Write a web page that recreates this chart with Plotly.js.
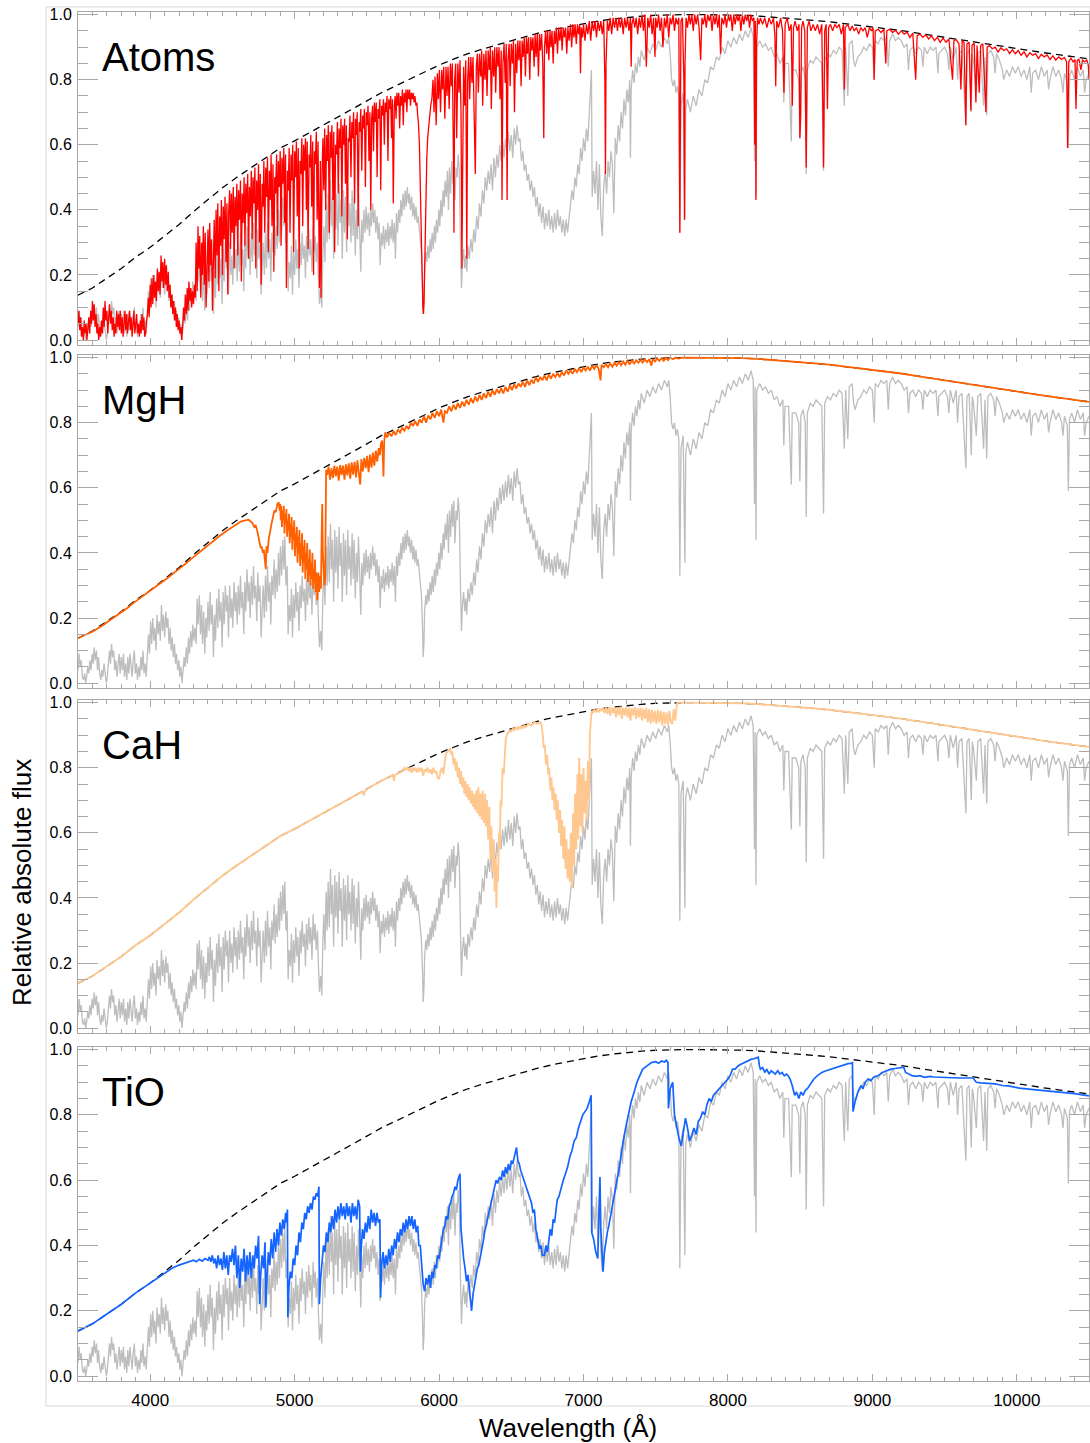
<!DOCTYPE html>
<html>
<head>
<meta charset="utf-8">
<script src="https://cdn.plot.ly/plotly-3.0.1.min.js"></script>
<style>html,body{margin:0;padding:0;background:#fff;}#chart{width:1090px;height:1443px;}</style>
</head>
<body>
<div id="chart"></div>
<script>
// ---------- DATA (wavelength in Angstrom, relative absolute flux) ----------
const panelLabels = ['Atoms', 'MgH', 'CaH', 'TiO'];
const xTickValues = [4000, 5000, 6000, 7000, 8000, 9000, 10000];
const yTickValues = [0.0, 0.2, 0.4, 0.6, 0.8, 1.0];

// smooth continuum (dashed)
const continuum = [
[3500,.138],[3600,.160],[3700,.190],[3800,.220],[3900,.255],[4000,.285],[4100,.320],[4200,.355],[4300,.395],[4400,.432],
[4500,.468],[4600,.500],[4700,.530],[4800,.560],[4900,.590],[5000,.612],[5100,.636],[5200,.660],[5300,.685],[5400,.710],
[5500,.735],[5600,.760],[5700,.781],[5800,.803],[5900,.825],[6000,.845],[6100,.863],[6200,.880],[6300,.894],[6400,.907],
[6500,.920],[6600,.933],[6700,.945],[6800,.955],[6900,.964],[7000,.972],[7100,.980],[7200,.986],[7300,.991],[7400,.995],
[7500,.998],[7600,1.0],[7700,1.0],[7800,1.0],[7900,1.0],[8000,.999],[8100,.998],[8200,.996],[8300,.993],[8400,.990],
[8500,.986],[8600,.982],[8700,.978],[8800,.973],[8900,.968],[9000,.963],[9100,.957],[9200,.951],[9300,.944],[9400,.937],
[9500,.930],[9600,.923],[9700,.915],[9800,.908],[9900,.901],[10000,.894],[10100,.888],[10200,.882],[10300,.876],[10400,.870],[10500,.864]
];

// observed spectrum (grey)
const observed = [
[3500,.04],[3508,.09],[3515,.05],[3522,.07],[3530,.02],[3538,.01],[3546,.03],[3553,0],[3560,.02],[3568,.05],[3575,.03],[3582,.07],[3590,.04],[3598,.09],[3605,.06],[3612,.11],[3620,.07],[3628,.10],[3635,.04],[3642,.08],
[3650,.03],[3658,.01],[3665,.04],[3672,.02],[3680,.06],[3688,.03],[3696,0],[3703,.02],[3710,.05],[3718,.10],[3725,.06],[3732,.12],[3740,.08],[3747,.10],[3755,.04],[3762,.07],[3770,.02],[3778,.05],[3785,.09],[3792,.03],
[3800,.08],[3808,.04],[3815,.09],[3822,.02],[3830,.06],[3838,.01],[3845,.08],[3852,.03],[3860,.09],[3868,.05],[3875,.02],[3882,.07],[3890,.10],[3897,.03],[3905,.06],[3912,.01],[3920,.05],[3928,.02],[3935,.08],[3942,.04],
[3950,.10],[3957,.03],[3965,.06],[3972,.02],[3980,.08],[3988,.15],[3995,.09],[4003,.19],[4010,.12],[4018,.20],[4025,.13],[4032,.17],[4040,.10],[4047,.21],[4055,.15],[4062,.19],[4070,.13],[4078,.24],[4085,.16],[4092,.21],
[4100,.14],[4108,.22],[4115,.17],[4122,.20],[4130,.12],[4138,.17],[4145,.10],[4152,.14],[4160,.08],[4168,.12],[4175,.06],[4182,.09],[4190,.04],[4198,.07],[4205,.02],[4212,.05],[4220,0],[4228,.04],[4235,.08],[4242,.05],
[4250,.11],[4258,.06],[4265,.14],[4272,.09],[4280,.16],[4288,.11],[4295,.18],[4302,.13],[4310,.17],[4318,.12],[4325,.26],[4332,.18],[4340,.27],[4348,.15],[4355,.24],[4362,.12],[4370,.22],[4378,.09],[4385,.20],[4392,.14],
[4400,.25],[4408,.16],[4415,.28],[4422,.18],[4430,.24],[4438,.08],[4445,.21],[4452,.13],[4460,.26],[4468,.17],[4475,.29],[4482,.19],[4490,.25],[4498,.11],[4505,.28],[4512,.18],[4520,.30],[4528,.22],[4535,.27],[4542,.14],
[4550,.30],[4558,.20],[4565,.26],[4572,.17],[4580,.31],[4588,.22],[4595,.28],[4602,.18],[4610,.30],[4618,.21],[4625,.33],[4632,.23],[4640,.28],[4648,.15],[4655,.31],[4662,.22],[4670,.35],[4678,.25],[4685,.31],[4692,.20],
[4700,.33],[4708,.24],[4715,.36],[4722,.26],[4730,.30],[4738,.19],[4745,.34],[4752,.25],[4760,.30],[4768,.14],[4775,.24],[4782,.30],[4790,.20],[4798,.33],[4805,.22],[4812,.36],[4820,.25],[4828,.31],[4835,.18],[4842,.33],
[4850,.27],[4858,.38],[4865,.26],[4872,.35],[4880,.28],[4888,.40],[4895,.30],[4902,.42],[4910,.33],[4918,.44],[4925,.35],[4932,.45],[4940,.30],[4948,.36],[4955,.15],[4962,.24],[4970,.19],[4978,.29],[4985,.14],[4992,.27],
[5000,.20],[5008,.31],[5015,.22],[5022,.28],[5030,.16],[5038,.30],[5045,.23],[5052,.33],[5060,.25],[5068,.29],[5075,.19],[5082,.32],[5090,.24],[5098,.34],[5105,.26],[5112,.31],[5120,.21],[5128,.35],[5135,.27],[5142,.32],
[5150,.24],[5158,.30],[5165,.19],[5172,.11],[5180,.16],[5188,.10],[5195,.26],[5202,.35],[5210,.24],[5218,.42],[5225,.30],[5232,.45],[5240,.31],[5248,.49],[5255,.35],[5262,.44],[5270,.25],[5278,.47],[5285,.34],[5292,.45],
[5300,.29],[5308,.48],[5315,.36],[5322,.43],[5330,.25],[5338,.46],[5345,.33],[5352,.44],[5360,.27],[5368,.47],[5375,.35],[5382,.42],[5390,.30],[5398,.46],[5405,.32],[5412,.44],[5420,.26],[5428,.40],[5435,.31],[5442,.45],
[5450,.34],[5458,.21],[5465,.37],[5472,.30],[5480,.40],[5488,.33],[5495,.41],[5502,.34],[5510,.39],[5518,.32],[5525,.40],[5532,.35],[5540,.42],[5548,.36],[5555,.40],[5562,.33],[5570,.38],[5578,.31],[5585,.36],[5592,.23],
[5600,.33],[5608,.29],[5615,.35],[5622,.28],[5630,.34],[5638,.30],[5645,.36],[5652,.29],[5660,.35],[5668,.31],[5675,.37],[5682,.30],[5690,.36],[5698,.25],[5705,.39],[5712,.33],[5720,.40],[5728,.36],[5735,.43],[5742,.38],
[5750,.45],[5758,.40],[5765,.46],[5772,.41],[5780,.47],[5788,.42],[5795,.45],[5802,.40],[5810,.44],[5818,.38],[5825,.42],[5832,.37],[5840,.41],[5848,.36],[5855,.38],[5862,.34],[5870,.31],[5878,.27],[5885,.18],[5890,.08],
[5895,.12],[5900,.22],[5908,.27],[5915,.24],[5922,.29],[5930,.25],[5938,.31],[5945,.27],[5952,.33],[5960,.28],[5968,.35],[5975,.30],[5982,.37],[5990,.33],[5998,.40],[6005,.35],[6012,.43],[6020,.38],[6028,.46],[6035,.41],
[6042,.49],[6050,.44],[6058,.52],[6065,.40],[6072,.53],[6080,.45],[6088,.55],[6095,.48],[6102,.56],[6110,.43],[6118,.53],[6125,.50],[6132,.57],[6140,.52],[6148,.30],[6155,.16],[6162,.24],[6170,.28],[6178,.22],[6185,.26],
[6192,.21],[6200,.29],[6210,.25],[6220,.31],[6230,.27],[6240,.34],[6250,.30],[6260,.38],[6270,.34],[6280,.42],[6290,.38],[6300,.46],[6310,.42],[6320,.50],[6330,.46],[6340,.52],[6350,.48],[6360,.54],[6370,.46],[6380,.56],
[6390,.50],[6400,.57],[6410,.53],[6420,.60],[6430,.55],[6440,.61],[6450,.56],[6460,.62],[6470,.57],[6480,.64],[6490,.58],[6500,.63],[6510,.56],[6520,.65],[6530,.60],[6540,.66],[6550,.61],[6560,.62],[6570,.55],[6580,.58],
[6590,.52],[6600,.54],[6610,.49],[6620,.51],[6630,.46],[6640,.49],[6650,.44],[6660,.47],[6670,.41],[6680,.44],[6690,.38],[6700,.42],[6710,.36],[6720,.41],[6730,.34],[6740,.39],[6750,.35],[6760,.40],[6770,.34],[6780,.38],
[6790,.33],[6800,.39],[6810,.34],[6820,.40],[6830,.35],[6840,.38],[6850,.33],[6860,.37],[6870,.32],[6880,.37],[6890,.33],[6900,.38],[6910,.41],[6920,.46],[6930,.43],[6940,.50],[6950,.47],[6960,.54],[6970,.51],[6980,.59],
[6990,.55],[7000,.62],[7010,.58],[7020,.65],[7030,.61],[7040,.70],[7048,.80],[7055,.83],[7060,.44],[7070,.52],[7080,.45],[7090,.55],[7100,.40],[7110,.54],[7120,.38],[7130,.32],[7140,.47],[7150,.52],[7160,.45],[7170,.55],
[7180,.50],[7190,.58],[7200,.54],[7210,.39],[7220,.62],[7230,.57],[7240,.66],[7250,.61],[7260,.70],[7270,.65],[7280,.74],[7290,.69],[7300,.77],[7310,.73],[7320,.80],[7325,.56],[7330,.77],[7340,.83],[7350,.79],[7360,.85],
[7370,.82],[7380,.87],[7390,.84],[7400,.89],[7420,.86],[7440,.90],[7460,.88],[7480,.91],[7500,.89],[7520,.92],[7540,.90],[7560,.93],[7580,.91],[7590,.93],[7600,.88],[7610,.80],[7620,.78],[7630,.80],[7640,.76],[7650,.78],
[7660,.75],[7667,.33],[7675,.72],[7690,.76],[7702,.37],[7708,.71],[7720,.74],[7740,.70],[7760,.75],[7780,.72],[7800,.77],[7820,.75],[7840,.80],[7860,.79],[7880,.84],[7900,.83],[7920,.87],[7940,.86],[7960,.90],[7980,.88],
[8000,.92],[8020,.90],[8040,.93],[8060,.91],[8080,.94],[8100,.92],[8120,.95],[8140,.93],[8160,.96],[8175,.93],[8184,.55],[8188,.91],[8194,.44],[8200,.90],[8220,.92],[8240,.90],[8260,.91],[8280,.89],[8300,.90],[8320,.87],
[8340,.88],[8360,.85],[8380,.87],[8387,.73],[8395,.85],[8420,.85],[8439,.61],[8445,.83],[8470,.83],[8490,.80],[8498,.62],[8505,.82],[8520,.84],[8535,.80],[8542,.51],[8550,.83],[8570,.86],[8590,.85],[8610,.87],[8630,.86],
[8650,.85],[8662,.52],[8670,.86],[8690,.88],[8710,.87],[8730,.89],[8750,.88],[8770,.90],[8790,.89],[8806,.72],[8815,.90],[8830,.75],[8840,.91],[8860,.92],[8870,.86],[8880,.84],[8900,.87],[8920,.88],[8940,.90],[8960,.89],
[8980,.91],[9000,.90],[9013,.80],[9020,.92],[9040,.91],[9060,.93],[9080,.92],[9100,.93],[9110,.84],[9120,.92],[9140,.94],[9160,.92],[9180,.93],[9200,.92],[9220,.90],[9240,.91],[9250,.83],[9260,.89],[9280,.90],[9300,.88],
[9320,.90],[9340,.89],[9350,.84],[9360,.90],[9380,.88],[9400,.90],[9420,.89],[9440,.90],[9455,.82],[9460,.88],[9480,.89],[9500,.90],[9520,.88],[9530,.83],[9540,.90],[9560,.86],[9580,.90],[9590,.80],[9600,.88],[9620,.89],
[9640,.72],[9648,.66],[9655,.88],[9670,.89],[9685,.70],[9692,.88],[9700,.86],[9720,.76],[9730,.88],[9750,.89],[9770,.72],[9780,.87],[9792,.69],[9800,.88],[9820,.89],[9840,.87],[9850,.82],[9860,.88],[9880,.86],[9900,.83],
[9910,.80],[9930,.83],[9950,.81],[9970,.84],[9990,.82],[10010,.84],[10030,.81],[10050,.83],[10070,.80],[10090,.84],[10100,.76],[10110,.82],[10130,.83],[10150,.80],[10170,.84],[10190,.81],[10210,.83],[10220,.77],[10230,.80],[10250,.84],
[10270,.81],[10290,.83],[10310,.80],[10320,.76],[10330,.82],[10350,.79],[10357,.59],[10365,.81],[10380,.83],[10400,.80],[10420,.84],[10440,.81],[10460,.83],[10470,.76],[10480,.80],[10500,.82]
];

// model with atomic lines only (red)
const atomsModel = [
[3500,.05],[3506,.09],[3512,.03],[3518,.07],[3524,.01],[3530,.04],[3537,0],[3543,.06],[3550,.02],[3556,.05],[3562,0],[3568,.04],[3575,.07],[3581,.02],[3588,.09],[3594,.05],[3600,.12],[3606,.06],[3612,.11],[3618,.04],
[3625,.08],[3631,.02],[3637,.05],[3643,0],[3650,.04],[3656,.01],[3662,.06],[3668,.02],[3675,.10],[3681,.04],[3687,.12],[3693,.06],[3700,.09],[3706,.02],[3712,.07],[3718,.11],[3725,.05],[3731,.09],[3737,.03],[3743,.07],
[3750,.01],[3756,.05],[3762,.02],[3768,.09],[3775,.04],[3781,.08],[3787,.03],[3793,.09],[3800,.02],[3806,.07],[3812,.01],[3818,.05],[3825,.09],[3831,.03],[3837,.08],[3843,.02],[3850,.06],[3856,.09],[3862,.03],[3868,.07],
[3875,.01],[3881,.05],[3887,.09],[3893,.02],[3900,.06],[3906,.08],[3912,.02],[3918,.05],[3925,.01],[3931,.06],[3937,.02],[3943,.08],[3950,.03],[3956,.07],[3962,.01],[3968,.02],[3975,.06],[3981,.08],[3987,.13],[3993,.07],
[4000,.17],[4006,.10],[4012,.19],[4018,.11],[4025,.20],[4031,.13],[4037,.18],[4043,.12],[4050,.22],[4056,.15],[4062,.21],[4068,.14],[4075,.26],[4081,.18],[4087,.24],[4093,.16],[4100,.25],[4106,.17],[4112,.23],[4118,.15],
[4125,.21],[4131,.13],[4137,.17],[4143,.10],[4150,.14],[4156,.08],[4162,.12],[4168,.06],[4175,.10],[4181,.04],[4187,.08],[4193,.03],[4200,.06],[4206,.02],[4212,.04],[4218,0],[4225,.05],[4231,.10],[4237,.06],[4243,.14],
[4250,.08],[4256,.16],[4262,.09],[4268,.18],[4275,.12],[4281,.16],[4287,.10],[4293,.15],[4300,.11],[4306,.17],[4312,.13],[4318,.30],[4325,.15],[4331,.35],[4337,.22],[4343,.32],[4350,.13],[4356,.30],[4362,.20],[4368,.35],
[4375,.17],[4381,.33],[4387,.10],[4393,.25],[4400,.34],[4406,.18],[4412,.36],[4418,.23],[4425,.31],[4431,.09],[4437,.27],[4443,.37],[4450,.19],[4456,.40],[4462,.26],[4468,.42],[4475,.15],[4481,.38],[4487,.29],[4493,.43],
[4500,.20],[4506,.41],[4512,.31],[4518,.44],[4525,.24],[4531,.42],[4537,.14],[4543,.39],[4550,.46],[4556,.28],[4562,.45],[4568,.33],[4575,.47],[4581,.22],[4587,.44],[4593,.35],[4600,.48],[4606,.26],[4612,.46],[4618,.37],
[4625,.49],[4631,.18],[4637,.45],[4643,.36],[4650,.50],[4656,.29],[4662,.48],[4668,.39],[4675,.51],[4681,.25],[4687,.47],[4693,.38],[4700,.52],[4706,.31],[4712,.50],[4718,.42],[4725,.53],[4731,.22],[4737,.49],[4743,.40],
[4750,.54],[4756,.30],[4762,.51],[4768,.17],[4775,.48],[4781,.41],[4787,.55],[4793,.33],[4800,.53],[4806,.44],[4812,.56],[4818,.27],[4825,.52],[4831,.43],[4837,.57],[4843,.35],[4850,.54],[4856,.21],[4862,.50],[4868,.45],
[4875,.57],[4881,.32],[4887,.55],[4893,.47],[4900,.58],[4906,.29],[4912,.56],[4918,.48],[4925,.59],[4931,.36],[4937,.57],[4943,.16],[4950,.52],[4956,.46],[4962,.59],[4968,.33],[4975,.57],[4981,.49],[4987,.60],[4993,.27],
[5000,.58],[5006,.50],[5012,.61],[5018,.38],[5025,.59],[5031,.22],[5037,.55],[5043,.51],[5050,.62],[5056,.35],[5062,.60],[5068,.52],[5075,.62],[5081,.40],[5087,.61],[5093,.28],[5100,.57],[5106,.53],[5112,.63],[5118,.41],
[5125,.61],[5131,.20],[5137,.58],[5143,.54],[5150,.64],[5156,.37],[5162,.61],[5168,.30],[5172,.16],[5178,.55],[5183,.13],[5190,.52],[5196,.62],[5202,.46],[5208,.65],[5215,.40],[5221,.63],[5227,.55],[5233,.66],[5240,.33],
[5246,.64],[5252,.56],[5258,.66],[5265,.43],[5271,.64],[5277,.27],[5283,.60],[5290,.57],[5296,.67],[5302,.45],[5308,.65],[5315,.59],[5321,.68],[5327,.38],[5333,.66],[5340,.60],[5346,.68],[5352,.48],[5358,.66],[5365,.31],
[5371,.62],[5377,.61],[5383,.69],[5390,.50],[5396,.67],[5402,.62],[5408,.70],[5415,.42],[5421,.68],[5427,.63],[5433,.70],[5440,.35],[5446,.67],[5452,.64],[5458,.71],[5465,.52],[5471,.69],[5477,.65],[5483,.71],[5490,.47],
[5496,.70],[5502,.66],[5508,.72],[5515,.55],[5521,.70],[5527,.40],[5533,.68],[5540,.72],[5546,.58],[5552,.73],[5558,.67],[5565,.73],[5571,.50],[5577,.71],[5583,.68],[5590,.74],[5596,.46],[5602,.72],[5608,.69],[5615,.74],
[5621,.60],[5627,.73],[5633,.70],[5640,.75],[5646,.55],[5652,.74],[5658,.71],[5665,.75],[5671,.62],[5677,.74],[5683,.42],[5690,.72],[5696,.75],[5702,.68],[5708,.76],[5715,.72],[5721,.76],[5727,.65],[5733,.75],[5740,.72],
[5746,.77],[5752,.66],[5758,.76],[5765,.73],[5771,.77],[5777,.70],[5783,.77],[5790,.74],[5796,.77],[5802,.72],[5808,.76],[5815,.74],[5821,.76],[5827,.73],[5833,.75],[5840,.72],[5846,.73],[5852,.69],[5858,.66],[5864,.60],
[5870,.50],[5876,.38],[5882,.22],[5888,.10],[5892,.08],[5896,.12],[5902,.30],[5908,.45],[5915,.56],[5921,.62],[5928,.66],[5935,.70],[5942,.72],[5950,.74],[5958,.80],[5965,.70],[5972,.81],[5980,.66],[5988,.82],[5995,.74],
[6002,.83],[6010,.70],[6018,.83],[6025,.77],[6032,.84],[6040,.68],[6048,.84],[6055,.75],[6062,.84],[6070,.71],[6078,.85],[6085,.78],[6092,.85],[6100,.55],[6103,.33],[6108,.80],[6115,.85],[6122,.62],[6130,.85],[6138,.76],
[6145,.86],[6152,.70],[6158,.22],[6163,.50],[6170,.84],[6178,.72],[6185,.86],[6192,.25],[6198,.80],[6205,.87],[6212,.74],[6220,.87],[6228,.79],[6235,.87],[6243,.70],[6251,.51],[6258,.84],[6265,.88],[6272,.76],[6280,.88],
[6288,.81],[6295,.89],[6302,.72],[6310,.88],[6318,.80],[6325,.89],[6332,.75],[6340,.89],[6348,.83],[6355,.90],[6362,.71],[6370,.89],[6378,.81],[6385,.90],[6392,.76],[6400,.90],[6408,.84],[6415,.90],[6422,.74],[6430,.89],
[6436,.43],[6442,.85],[6450,.91],[6458,.79],[6465,.91],[6471,.43],[6477,.86],[6485,.91],[6492,.78],[6500,.91],[6508,.85],[6515,.92],[6522,.70],[6530,.91],[6538,.82],[6545,.92],[6552,.86],[6560,.92],[6568,.78],[6575,.92],
[6582,.87],[6590,.93],[6598,.81],[6605,.93],[6612,.88],[6620,.93],[6628,.80],[6635,.93],[6642,.89],[6650,.93],[6658,.84],[6665,.94],[6672,.87],[6680,.94],[6688,.81],[6695,.94],[6702,.89],[6710,.94],[6718,.85],[6725,.62],
[6730,.90],[6738,.95],[6745,.88],[6752,.95],[6760,.86],[6768,.95],[6775,.90],[6782,.95],[6790,.85],[6798,.95],[6805,.91],[6812,.96],[6820,.88],[6828,.96],[6836,.92],[6845,.96],[6852,.89],[6860,.96],[6868,.93],[6876,.96],
[6884,.88],[6892,.96],[6900,.92],[6910,.97],[6918,.90],[6926,.97],[6934,.93],[6942,.97],[6950,.91],[6958,.97],[6966,.94],[6974,.97],[6979,.82],[6985,.96],[6993,.93],[7000,.97],[7010,.92],[7020,.97],[7030,.94],[7040,.98],
[7050,.92],[7060,.98],[7070,.95],[7080,.98],[7090,.93],[7100,.98],[7110,.95],[7120,.98],[7130,.94],[7140,.98],[7148,.80],[7152,.51],[7156,.85],[7165,.98],[7175,.95],[7185,.99],[7195,.94],[7205,.99],[7215,.96],[7225,.99],
[7235,.95],[7245,.99],[7255,.96],[7265,.99],[7275,.94],[7285,.99],[7295,.96],[7305,.99],[7315,.95],[7325,.99],[7330,.84],[7335,.97],[7345,.99],[7355,.96],[7365,.99],[7375,.94],[7385,.99],[7395,.96],[7405,1.0],[7415,.95],
[7425,1.0],[7435,.84],[7445,.99],[7455,.96],[7465,1.0],[7475,.94],[7485,.99],[7495,.87],[7500,.99],[7510,.96],[7520,1.0],[7530,.95],[7540,.99],[7550,.90],[7560,.99],[7570,.96],[7580,1.0],[7590,.93],[7600,.99],[7610,.97],
[7620,1.0],[7630,.95],[7640,.99],[7650,.97],[7660,.99],[7664,.50],[7667,.33],[7670,.60],[7675,.98],[7685,.99],[7695,.80],[7699,.37],[7703,.85],[7710,.99],[7720,.96],[7730,1.0],[7740,.97],[7750,1.0],[7760,.95],[7770,1.0],
[7780,.97],[7790,1.0],[7800,.96],[7811,.86],[7820,.99],[7830,.97],[7840,1.0],[7850,.96],[7860,1.0],[7870,.98],[7880,1.0],[7890,.95],[7900,1.0],[7910,.97],[7920,1.0],[7930,.96],[7940,1.0],[7949,.88],[7958,.99],[7970,.97],
[7980,1.0],[7990,.96],[8000,1.0],[8010,.98],[8020,1.0],[8030,.95],[8040,1.0],[8050,.97],[8060,1.0],[8070,.98],[8080,1.0],[8090,.95],[8100,1.0],[8110,.97],[8120,1.0],[8130,.98],[8140,1.0],[8150,.96],[8160,1.0],[8170,.98],
[8180,.99],[8186,.60],[8190,.98],[8194,.43],[8198,.90],[8205,.99],[8215,.97],[8225,.99],[8240,.97],[8255,.99],[8270,.96],[8285,.99],[8300,.97],[8315,.99],[8325,.94],[8331,.78],[8338,.98],[8350,.96],[8365,.99],[8378,.95],
[8388,.76],[8396,.97],[8410,.99],[8425,.95],[8438,.97],[8446,.72],[8454,.96],[8465,.98],[8480,.95],[8492,.97],[8498,.62],[8504,.69],[8510,.96],[8520,.98],[8532,.95],[8542,.53],[8550,.96],[8562,.98],[8575,.95],[8590,.97],
[8605,.95],[8620,.97],[8635,.94],[8650,.97],[8662,.53],[8670,.95],[8680,.97],[8689,.71],[8697,.96],[8710,.97],[8725,.95],[8740,.97],[8755,.96],[8770,.97],[8785,.94],[8800,.97],[8806,.77],[8812,.96],[8830,.97],[8845,.95],
[8860,.965],[8875,.95],[8890,.96],[8905,.94],[8920,.96],[8935,.95],[8950,.96],[8965,.93],[8980,.96],[8995,.95],[9005,.96],[9012,.80],[9020,.95],[9040,.955],[9060,.945],[9080,.955],[9093,.85],[9100,.95],[9120,.955],[9140,.945],
[9160,.952],[9180,.94],[9200,.95],[9220,.94],[9240,.946],[9260,.93],[9280,.943],[9300,.80],[9310,.935],[9330,.94],[9350,.93],[9370,.938],[9390,.925],[9410,.935],[9430,.92],[9450,.93],[9470,.915],[9490,.928],[9510,.915],[9530,.925],
[9555,.80],[9565,.92],[9580,.923],[9600,.91],[9613,.77],[9622,.92],[9635,.915],[9647,.66],[9655,.91],[9670,.915],[9682,.705],[9690,.905],[9705,.913],[9717,.73],[9725,.905],[9740,.76],[9750,.905],[9765,.91],[9775,.80],[9786,.70],
[9795,.90],[9810,.905],[9830,.895],[9850,.90],[9870,.885],[9890,.898],[9910,.89],[9930,.895],[9950,.88],[9970,.892],[9990,.88],[10010,.89],[10030,.875],[10050,.886],[10070,.87],[10090,.883],[10110,.875],[10130,.88],[10150,.865],[10170,.878],
[10190,.87],[10210,.876],[10230,.862],[10250,.873],[10270,.86],[10290,.87],[10310,.862],[10330,.868],[10345,.855],[10352,.59],[10360,.855],[10375,.866],[10390,.855],[10403,.862],[10410,.71],[10418,.858],[10430,.864],[10444,.83],[10455,.86],[10470,.855],
[10485,.86],[10495,.845],[10500,.80]
];

// model with MgH only (orange)
const mghModel = [
[3500,.138],[3530,.143],[3560,.150],[3600,.158],[3640,.168],[3680,.180],[3720,.193],[3760,.205],[3800,.216],[3840,.230],[3880,.245],[3920,.258],[3960,.270],[4000,.282],[4040,.295],[4080,.310],[4120,.323],[4160,.337],[4200,.350],[4240,.365],
[4280,.380],[4320,.395],[4360,.410],[4400,.423],[4440,.437],[4480,.452],[4520,.465],[4560,.477],[4600,.490],[4630,.497],[4660,.500],[4680,.502],[4700,.495],[4710,.490],[4720,.480],[4730,.485],[4740,.470],[4750,.450],[4758,.430],[4765,.415],
[4772,.420],[4780,.400],[4787,.410],[4793,.390],[4800,.350],[4805,.420],[4812,.400],[4820,.440],[4830,.470],[4840,.490],[4850,.510],[4860,.530],[4870,.525],[4880,.550],[4890,.555],[4896,.530],[4900,.550],[4904,.500],[4907,.545],[4912,.480],
[4916,.530],[4921,.500],[4925,.545],[4930,.460],[4934,.520],[4939,.490],[4943,.535],[4948,.450],[4952,.500],[4957,.470],[4961,.520],[4966,.430],[4970,.490],[4975,.450],[4979,.510],[4984,.410],[4988,.480],[4993,.440],[4997,.500],[5002,.390],
[5006,.460],[5011,.420],[5015,.480],[5020,.370],[5024,.450],[5029,.400],[5033,.470],[5038,.360],[5042,.430],[5047,.380],[5051,.460],[5056,.340],[5060,.420],[5065,.370],[5069,.440],[5074,.320],[5078,.400],[5083,.350],[5087,.430],[5092,.310],
[5096,.380],[5101,.330],[5105,.410],[5110,.300],[5114,.370],[5119,.320],[5123,.400],[5128,.290],[5132,.350],[5137,.310],[5141,.380],[5146,.280],[5150,.340],[5154,.300],[5158,.255],[5164,.340],[5170,.280],[5176,.330],[5182,.290],[5187,.450],
[5191,.550],[5195,.400],[5200,.330],[5206,.300],[5211,.317],[5215,.460],[5218,.655],[5225,.640],[5235,.665],[5245,.625],[5255,.660],[5265,.630],[5275,.668],[5285,.635],[5295,.665],[5305,.622],[5315,.670],[5325,.640],[5335,.668],[5345,.625],
[5355,.672],[5365,.638],[5375,.675],[5385,.628],[5395,.678],[5405,.640],[5415,.680],[5425,.632],[5435,.684],[5445,.642],[5454,.610],[5462,.688],[5472,.650],[5482,.692],[5492,.660],[5502,.698],[5512,.648],[5522,.702],[5532,.662],[5542,.708],
[5552,.668],[5562,.714],[5572,.680],[5582,.722],[5590,.700],[5597,.735],[5605,.745],[5610,.700],[5615,.635],[5620,.740],[5627,.770],[5640,.755],[5655,.768],[5670,.758],[5685,.774],[5700,.762],[5715,.779],[5730,.770],[5745,.784],[5760,.775],
[5775,.790],[5790,.780],[5805,.800],[5820,.790],[5835,.805],[5850,.790],[5865,.810],[5880,.800],[5895,.820],[5910,.800],[5925,.822],[5940,.810],[5955,.830],[5970,.815],[5985,.835],[6000,.820],[6015,.840],[6030,.800],[6040,.835],[6055,.830],
[6070,.850],[6085,.835],[6100,.855],[6115,.840],[6130,.860],[6145,.845],[6160,.865],[6175,.850],[6190,.870],[6205,.855],[6220,.875],[6235,.860],[6250,.880],[6265,.865],[6280,.885],[6295,.870],[6310,.890],[6325,.875],[6340,.895],[6355,.880],
[6370,.900],[6385,.885],[6400,.903],[6415,.890],[6430,.905],[6445,.890],[6460,.910],[6475,.895],[6490,.915],[6505,.900],[6520,.918],[6535,.905],[6550,.920],[6565,.910],[6580,.925],[6595,.910],[6610,.930],[6625,.915],[6640,.932],[6655,.920],
[6670,.940],[6685,.925],[6700,.940],[6715,.930],[6730,.945],[6745,.930],[6760,.948],[6775,.935],[6790,.950],[6805,.940],[6820,.953],[6835,.940],[6850,.956],[6865,.945],[6880,.960],[6895,.950],[6910,.960],[6925,.950],[6940,.965],[6955,.955],
[6970,.968],[6985,.955],[7000,.970],[7015,.960],[7030,.972],[7045,.960],[7060,.975],[7075,.965],[7090,.977],[7105,.965],[7118,.930],[7125,.978],[7140,.970],[7155,.980],[7170,.970],[7185,.982],[7200,.972],[7215,.984],[7230,.975],[7245,.986],
[7260,.976],[7275,.988],[7290,.978],[7305,.990],[7320,.980],[7335,.990],[7350,.982],[7365,.992],[7380,.984],[7395,.993],[7410,.985],[7425,.994],[7440,.986],[7455,.995],[7470,.975],[7480,.996],[7495,.988],[7510,.997],[7525,.990],[7540,.998],
[7555,.990],[7570,.999],[7585,.992],[7600,1.0],[7620,.995],[7640,1.0],[7660,.997],[7680,1.0],[7700,1.0],[7800,1.0],[7900,1.0],[8000,.999],[8100,.998],[8200,.996],[8300,.993],[8400,.990],[8500,.986],[8600,.982],[8700,.978],[8800,.973],
[8900,.968],[9000,.963],[9100,.957],[9200,.951],[9300,.944],[9400,.937],[9500,.930],[9600,.923],[9700,.915],[9800,.908],[9900,.901],[10000,.894],[10100,.888],[10200,.882],[10300,.876],[10400,.870],[10500,.864]
];

// model with CaH only (light orange)
const cahModel = [
[3500,.138],[3600,.160],[3700,.190],[3800,.220],[3900,.255],[4000,.285],[4100,.320],[4200,.355],[4300,.395],[4400,.432],[4500,.468],[4600,.500],[4700,.530],[4800,.560],[4900,.590],[5000,.612],[5100,.636],[5200,.660],[5300,.685],[5400,.710],
[5470,.727],[5478,.715],[5485,.727],[5500,.735],[5600,.760],[5680,.777],[5688,.760],[5695,.778],[5740,.788],[5760,.800],[5770,.795],[5780,.800],[5790,.790],[5800,.800],[5810,.785],[5820,.800],[5830,.790],[5840,.800],[5850,.785],[5860,.800],
[5870,.790],[5880,.800],[5890,.775],[5900,.795],[5910,.790],[5920,.800],[5930,.785],[5940,.795],[5950,.780],[5960,.800],[5970,.785],[5980,.790],[5990,.770],[6000,.765],[6010,.790],[6020,.800],[6030,.780],[6040,.820],[6048,.845],[6060,.850],
[6070,.855],[6078,.860],[6085,.840],[6092,.850],[6100,.810],[6108,.830],[6115,.790],[6122,.820],[6130,.770],[6138,.800],[6145,.750],[6152,.790],[6160,.740],[6168,.770],[6175,.720],[6182,.760],[6190,.710],[6198,.750],[6205,.700],[6212,.740],
[6220,.690],[6228,.730],[6235,.680],[6242,.720],[6250,.670],[6258,.730],[6265,.660],[6272,.740],[6280,.650],[6288,.720],[6295,.640],[6302,.730],[6310,.630],[6318,.720],[6325,.620],[6332,.700],[6340,.580],[6348,.680],[6355,.520],[6362,.620],
[6370,.480],[6378,.580],[6385,.420],[6392,.520],[6397,.370],[6402,.500],[6408,.450],[6414,.600],[6420,.550],[6426,.700],[6432,.680],[6440,.800],[6448,.780],[6455,.860],[6462,.890],[6470,.900],[6480,.910],[6492,.915],[6500,.910],[6510,.920],
[6520,.915],[6530,.925],[6540,.918],[6550,.925],[6560,.920],[6570,.930],[6580,.920],[6590,.930],[6600,.925],[6620,.935],[6640,.930],[6660,.940],[6680,.935],[6700,.940],[6710,.930],[6718,.900],[6725,.860],[6732,.870],[6740,.810],[6748,.840],
[6755,.780],[6762,.800],[6770,.730],[6778,.770],[6785,.700],[6792,.740],[6800,.670],[6808,.720],[6815,.640],[6822,.700],[6830,.600],[6838,.670],[6845,.560],[6852,.640],[6860,.520],[6868,.620],[6875,.490],[6882,.580],[6890,.460],[6897,.550],
[6905,.450],[6912,.600],[6920,.430],[6928,.660],[6935,.500],[6942,.720],[6950,.550],[6958,.780],[6964,.580],[6970,.830],[6978,.620],[6985,.780],[6992,.600],[7000,.800],[7008,.660],[7015,.760],[7022,.640],[7030,.820],[7038,.700],[7044,.900],
[7050,.960],[7056,.975],[7065,.970],[7075,.978],[7085,.972],[7095,.980],[7105,.970],[7115,.982],[7125,.974],[7135,.984],[7145,.968],[7155,.985],[7165,.965],[7175,.986],[7185,.960],[7195,.985],[7205,.968],[7215,.987],[7225,.955],[7235,.986],
[7245,.962],[7255,.988],[7265,.950],[7275,.985],[7285,.960],[7295,.987],[7305,.955],[7315,.985],[7325,.945],[7335,.984],[7345,.960],[7355,.986],[7365,.950],[7375,.983],[7385,.955],[7395,.985],[7405,.945],[7415,.982],[7425,.950],[7435,.984],
[7445,.940],[7455,.980],[7465,.935],[7475,.978],[7485,.940],[7495,.975],[7505,.935],[7515,.978],[7525,.940],[7535,.975],[7545,.930],[7555,.972],[7565,.935],[7575,.970],[7585,.930],[7595,.975],[7605,.940],[7615,.935],[7625,.980],[7635,.945],
[7645,.990],[7650,1.0],[7700,1.0],[7800,1.0],[7900,1.0],[8000,.999],[8100,.998],[8200,.996],[8300,.993],[8400,.990],[8500,.986],[8600,.982],[8700,.978],[8800,.973],[8900,.968],[9000,.963],[9100,.957],[9200,.951],[9300,.944],[9400,.937],
[9500,.930],[9600,.923],[9700,.915],[9800,.908],[9900,.901],[10000,.894],[10100,.888],[10200,.882],[10300,.876],[10400,.870],[10500,.864]
];

// model with TiO only (blue)
const tioModel = [
[3500,.138],[3600,.160],[3700,.190],[3800,.220],[3900,.255],[4000,.285],[4050,.300],[4100,.316],[4150,.330],[4200,.340],[4250,.348],[4280,.352],[4300,.355],[4320,.350],[4340,.358],[4360,.352],[4380,.360],[4400,.355],[4410,.365],[4420,.350],
[4430,.370],[4440,.345],[4450,.360],[4460,.330],[4470,.370],[4480,.340],[4490,.360],[4500,.325],[4510,.380],[4520,.330],[4530,.370],[4540,.310],[4550,.370],[4560,.350],[4570,.390],[4580,.340],[4590,.400],[4600,.300],[4610,.370],[4620,.270],
[4630,.360],[4640,.320],[4650,.390],[4660,.290],[4670,.370],[4680,.310],[4690,.380],[4700,.300],[4710,.370],[4720,.330],[4730,.400],[4740,.360],[4750,.430],[4758,.220],[4765,.310],[4775,.370],[4785,.330],[4795,.410],[4800,.210],[4808,.300],
[4818,.380],[4828,.340],[4838,.420],[4848,.360],[4858,.440],[4868,.380],[4878,.450],[4888,.400],[4898,.470],[4908,.430],[4918,.480],[4928,.450],[4938,.500],[4945,.470],[4950,.510],[4953,.180],[4960,.270],[4970,.320],[4980,.300],[4990,.360],
[5000,.340],[5010,.400],[5020,.370],[5030,.440],[5040,.410],[5050,.470],[5060,.450],[5070,.500],[5080,.480],[5090,.520],[5100,.500],[5110,.530],[5120,.510],[5130,.550],[5140,.540],[5150,.560],[5160,.550],[5168,.580],[5171,.220],[5180,.300],
[5190,.360],[5200,.400],[5210,.380],[5220,.440],[5230,.410],[5240,.470],[5250,.440],[5260,.490],[5270,.450],[5280,.510],[5290,.470],[5300,.520],[5310,.480],[5320,.530],[5330,.490],[5340,.520],[5350,.480],[5360,.530],[5370,.490],[5380,.520],
[5390,.470],[5400,.530],[5410,.490],[5420,.520],[5430,.480],[5440,.540],[5450,.520],[5455,.320],[5462,.400],[5470,.450],[5480,.420],[5490,.470],[5500,.440],[5510,.490],[5520,.450],[5530,.510],[5540,.470],[5550,.500],[5560,.460],[5570,.500],
[5580,.470],[5590,.480],[5595,.240],[5602,.340],[5612,.380],[5622,.330],[5632,.370],[5642,.340],[5652,.390],[5662,.350],[5672,.400],[5682,.370],[5692,.420],[5702,.390],[5712,.440],[5722,.410],[5732,.450],[5742,.430],[5752,.470],[5762,.440],
[5772,.480],[5782,.450],[5792,.490],[5802,.460],[5812,.490],[5822,.450],[5832,.480],[5842,.440],[5852,.460],[5860,.400],[5870,.400],[5880,.330],[5890,.280],[5900,.260],[5910,.300],[5920,.280],[5930,.310],[5940,.270],[5950,.320],[5960,.300],
[5970,.340],[5980,.330],[5990,.370],[6000,.360],[6010,.400],[6020,.420],[6030,.450],[6040,.460],[6050,.490],[6060,.480],[6070,.520],[6080,.530],[6090,.550],[6100,.560],[6110,.580],[6120,.570],[6130,.600],[6145,.620],[6152,.450],[6160,.400],
[6170,.360],[6180,.330],[6190,.290],[6200,.310],[6210,.260],[6220,.220],[6225,.200],[6235,.250],[6245,.280],[6255,.300],[6265,.330],[6275,.340],[6285,.360],[6295,.390],[6305,.410],[6315,.440],[6325,.460],[6335,.470],[6345,.500],[6355,.520],
[6365,.540],[6375,.560],[6385,.580],[6395,.600],[6405,.590],[6418,.610],[6430,.600],[6440,.630],[6450,.610],[6460,.640],[6470,.620],[6480,.650],[6492,.630],[6500,.660],[6510,.650],[6520,.670],[6530,.680],[6536,.700],[6545,.660],[6555,.650],
[6565,.630],[6581,.610],[6595,.590],[6610,.570],[6625,.550],[6640,.530],[6650,.500],[6660,.510],[6670,.450],[6685,.410],[6695,.390],[6705,.400],[6715,.370],[6729,.370],[6740,.400],[6750,.380],[6759,.420],[6770,.450],[6780,.430],[6790,.480],
[6800,.470],[6818,.540],[6830,.550],[6845,.580],[6860,.600],[6875,.620],[6890,.640],[6907,.675],[6920,.690],[6935,.720],[6950,.730],[6965,.760],[6980,.780],[6995,.800],[7010,.810],[7025,.820],[7040,.840],[7053,.860],[7057,.440],[7070,.420],
[7085,.380],[7099,.360],[7107,.500],[7114,.610],[7120,.450],[7130,.350],[7135,.320],[7145,.380],[7155,.420],[7165,.440],[7175,.460],[7190,.500],[7205,.540],[7220,.570],[7232,.600],[7245,.630],[7260,.680],[7275,.720],[7292,.760],[7310,.800],
[7330,.840],[7351,.870],[7370,.900],[7390,.920],[7410,.940],[7440,.950],[7470,.960],[7500,.963],[7520,.958],[7540,.965],[7560,.962],[7573,.967],[7585,.960],[7588,.820],[7600,.880],[7618,.900],[7630,.800],[7647,.760],[7660,.730],[7677,.705],
[7690,.750],[7706,.790],[7720,.760],[7735,.720],[7751,.740],[7765,.760],[7780,.740],[7795,.780],[7810,.790],[7825,.810],[7840,.800],[7854,.830],[7870,.850],[7885,.840],[7900,.860],[7920,.870],[7943,.880],[7960,.890],[7980,.900],[8000,.910],
[8015,.920],[8032,.940],[8050,.940],[8070,.950],[8090,.955],[8110,.960],[8121,.962],[8140,.965],[8160,.970],[8180,.972],[8200,.975],[8210,.977],[8218,.950],[8225,.940],[8240,.945],[8255,.930],[8269,.940],[8285,.925],[8300,.935],[8315,.930],
[8328,.925],[8345,.935],[8360,.925],[8375,.930],[8390,.920],[8405,.925],[8417,.920],[8430,.910],[8445,.890],[8462,.860],[8475,.870],[8491,.850],[8505,.870],[8520,.860],[8536,.875],[8550,.880],[8565,.890],[8580,.900],[8595,.910],[8620,.920],
[8650,.930],[8680,.935],[8713,.940],[8750,.945],[8790,.950],[8832,.957],[8850,.958],[8862,.960],[8866,.810],[8880,.840],[8900,.870],[8921,.890],[8935,.880],[8950,.900],[8970,.910],[8990,.905],[9010,.916],[9040,.920],[9070,.930],[9100,.935],
[9128,.940],[9160,.942],[9190,.944],[9217,.946],[9230,.930],[9250,.925],[9276,.920],[9300,.918],[9330,.920],[9360,.915],[9400,.918],[9424,.916],[9460,.915],[9500,.914],[9550,.914],[9600,.913],[9650,.913],[9700,.913],[9710,.905],[9720,.900],
[9750,.898],[9800,.897],[9850,.895],[9869,.893],[9900,.890],[9950,.888],[10017,.882],[10100,.878],[10200,.874],[10313,.870],[10400,.865],[10500,.858]
];

// ---------- FIGURE ----------
const FONT = 'Liberation Sans, Arial, Helvetica, sans-serif';
const AX = '#a8a8a8';
const colors = ['#ff0000', '#ff6000', '#ffc890', '#1464ff'];
const lineWidths = [1.3, 1.8, 1.9, 1.7];
const models = [atomsModel, mghModel, cahModel, tioModel];
const domains = [[0.7568, 1.0], [0.5062, 0.7495], [0.2542, 0.4974], [0.0, 0.2440]];
const yRange = [-0.015, 1.008];

const col = (arr, i) => arr.map(p => p[i]);

const traces = [];
const layout = {
  width: 1090, height: 1443,
  margin: {l: 78, r: 1, t: 12, b: 62},
  paper_bgcolor: '#fff', plot_bgcolor: '#fff',
  showlegend: false,
  font: {family: FONT, color: '#000'},
  annotations: [], shapes: []
};

for (let i = 0; i < 4; i++) {
  const n = i === 0 ? '' : String(i + 1);
  const xa = 'x' + n, ya = 'y' + n;
  traces.push({type: 'scatter', mode: 'lines', x: col(observed, 0), y: col(observed, 1), xaxis: xa, yaxis: ya,
    line: {color: '#bdbdbd', width: 1.3}, hoverinfo: 'skip'});
  traces.push({type: 'scatter', mode: 'lines', x: col(continuum, 0), y: col(continuum, 1), xaxis: xa, yaxis: ya,
    line: {color: '#000', width: 1.3, dash: '7px,5px'}, hoverinfo: 'skip'});
  traces.push({type: 'scatter', mode: 'lines', x: col(models[i], 0), y: col(models[i], 1), xaxis: xa, yaxis: ya,
    line: {color: colors[i], width: lineWidths[i]}, hoverinfo: 'skip'});

  layout['xaxis' + n] = {
    domain: [0, 1], anchor: ya, range: [3500, 10500],
    showline: true, linecolor: AX, linewidth: 1, mirror: 'ticks',
    ticks: 'inside', ticklen: 7, tickwidth: 1, tickcolor: AX,
    tickmode: 'array', tickvals: xTickValues, ticktext: xTickValues.map(String),
    showticklabels: i === 3, tickfont: {family: FONT, size: 17, color: '#000'},
    ticklabelstandoff: 4,
    minor: {ticks: 'inside', ticklen: 4, dtick: 100, tick0: 0, tickcolor: AX, showgrid: false},
    showgrid: false, zeroline: false
  };
  layout['yaxis' + n] = {
    domain: domains[i], anchor: xa, range: yRange,
    showline: true, linecolor: AX, linewidth: 1, mirror: 'ticks',
    ticks: 'inside', ticklen: 20, tickwidth: 1, tickcolor: AX,
    tickmode: 'array', tickvals: yTickValues, ticktext: yTickValues.map(v => v.toFixed(1)),
    tickfont: {family: FONT, size: 16, color: '#000'},
    ticklabelstandoff: 2,
    minor: {ticks: 'inside', ticklen: 10, dtick: 0.05, tick0: 0, tickcolor: AX, showgrid: false},
    showgrid: false, zeroline: false
  };
  layout.annotations.push({xref: xa, yref: ya, x: 3655, y: 0.87, text: panelLabels[i], showarrow: false,
    xanchor: 'left', yanchor: 'middle', font: {family: FONT, size: 40, color: '#000'}});
}

layout.annotations.push({xref: 'paper', yref: 'paper', x: -0.0554, y: 0.3645, text: 'Relative absolute flux',
  textangle: -90, showarrow: false, xanchor: 'center', yanchor: 'middle', font: {family: FONT, size: 26, color: '#000'}});
layout.annotations.push({xref: 'paper', yref: 'paper', x: 0.4847, y: -0.0343, text: 'Wavelength (Å)',
  showarrow: false, xanchor: 'center', yanchor: 'middle', font: {family: FONT, size: 26, color: '#000'}});
layout.shapes.push({type: 'rect', xref: 'paper', yref: 'paper', x0: -0.0317, x1: 1.003, y0: -0.0183, y1: 1.0037,
  line: {color: '#d9d9d9', width: 1}, fillcolor: 'rgba(0,0,0,0)', layer: 'below'});

Plotly.newPlot('chart', traces, layout, {staticPlot: true, displayModeBar: false});
</script>
</body>
</html>
